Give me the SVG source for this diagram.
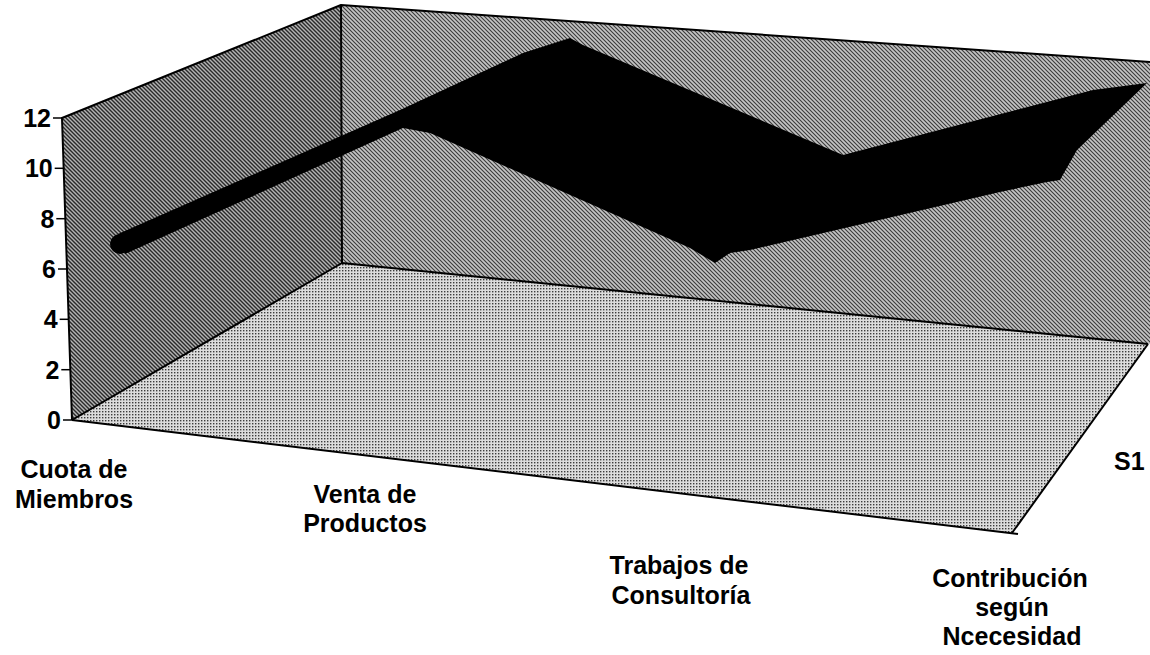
<svg xmlns="http://www.w3.org/2000/svg" width="1150" height="655" viewBox="0 0 1150 655">
  <defs>
    <pattern id="hatchLeft" width="4" height="4" patternUnits="userSpaceOnUse">
      <rect width="4" height="4" fill="#b4b4b4"/>
      <path d="M0,0 L4,4 M-1,3 L1,5 M3,-1 L5,1" stroke="#2a2a2a" stroke-width="1.4"/>
    </pattern>
    <pattern id="hatchBack" width="4" height="4" patternUnits="userSpaceOnUse">
      <rect width="4" height="4" fill="#c4c4c4"/>
      <path d="M0,0 L4,4 M-1,3 L1,5 M3,-1 L5,1" stroke="#3a3a3a" stroke-width="1.1"/>
    </pattern>
    <pattern id="dotsFloor" width="3" height="3" patternUnits="userSpaceOnUse">
      <rect width="3" height="3" fill="#dcdcdc"/>
      <rect x="0" y="0" width="1.4" height="1.4" fill="#3c3c3c"/>
    </pattern>
  </defs>
  <style>
    .edge { fill: none; stroke: #000; stroke-width: 2; stroke-linejoin: round; }
    .tick { stroke: #000; stroke-width: 1.5; }
    .lbl { font-family: "Liberation Sans", Arial, sans-serif; font-weight: bold; font-size: 25px; fill: #000; }
    .num { text-anchor: end; }
    .cat { text-anchor: middle; }
    .wall-left { fill: url(#hatchLeft); }
    .wall-back { fill: url(#hatchBack); }
    .floor { fill: url(#dotsFloor); }
    .series { fill: #000; }
  </style>
  <rect width="1150" height="655" fill="#fff"/>

  <g id="walls">
    <polygon class="wall-back" points="341,5 1150,62 1150,344 342,263"/>
    <polygon class="wall-left" points="62,118 341,5 342,263 72,420"/>
    <polygon class="floor" points="72,420 342,263 1148,344 1012,533"/>
  </g>

  <g id="edges">
    <polyline class="edge" points="72,420 62,118 341,5 1150,62"/>
    <line class="edge" x1="341" y1="5" x2="342" y2="263"/>
    <polyline class="edge" points="72,420 342,263 1148,344"/>
    <polyline class="edge" points="72,420 1018,534"/>
    <line class="edge" x1="1148" y1="344" x2="1012" y2="533"/>
  </g>

  <g id="y-axis">
    <line class="tick" x1="53" y1="118" x2="62" y2="118"/>
    <line class="tick" x1="54.7" y1="168.3" x2="63.7" y2="168.3"/>
    <line class="tick" x1="56.3" y1="218.7" x2="65.3" y2="218.7"/>
    <line class="tick" x1="58" y1="269" x2="67" y2="269"/>
    <line class="tick" x1="59.7" y1="319.3" x2="68.7" y2="319.3"/>
    <line class="tick" x1="61.3" y1="369.7" x2="70.3" y2="369.7"/>
    <line class="tick" x1="63" y1="420" x2="72" y2="420"/>
    <text class="lbl num" x="51" y="127">12</text>
    <text class="lbl num" x="52.7" y="177.3">10</text>
    <text class="lbl num" x="54.3" y="227.7">8</text>
    <text class="lbl num" x="56" y="278">6</text>
    <text class="lbl num" x="57.7" y="328.3">4</text>
    <text class="lbl num" x="59.3" y="378.7">2</text>
    <text class="lbl num" x="61" y="429">0</text>
  </g>

  <g id="series-S1">
    <path class="series" d="M118,234 L400,110 L523,53 L570,38 L583,45 L843,155 L1093,90 L1147,83 L1077,150 L1060,180 L1047,182 L1000,192 L750,250 L730,253 L715,263 L690,248 L430,133 L403,128 L125,254 Z"/>
    <circle class="series" cx="120" cy="244" r="10"/>
  </g>

  <g id="category-labels">
    <g id="cat-cuota">
      <text class="lbl cat" x="74" y="478">Cuota de</text>
      <text class="lbl cat" x="74" y="508">Miembros</text>
    </g>
    <g id="cat-venta">
      <text class="lbl cat" x="365" y="503">Venta de</text>
      <text class="lbl cat" x="365" y="532">Productos</text>
    </g>
    <g id="cat-trabajos">
      <text class="lbl cat" x="679" y="574">Trabajos de</text>
      <text class="lbl cat" x="681" y="604">Consultoría</text>
    </g>
    <g id="cat-contribucion">
      <text class="lbl cat" x="1010" y="587">Contribución</text>
      <text class="lbl cat" x="1012" y="616">según</text>
      <text class="lbl cat" x="1012" y="645">Ncecesidad</text>
    </g>
  </g>

  <g id="series-label">
    <text class="lbl" x="1114" y="470">S1</text>
  </g>
</svg>
